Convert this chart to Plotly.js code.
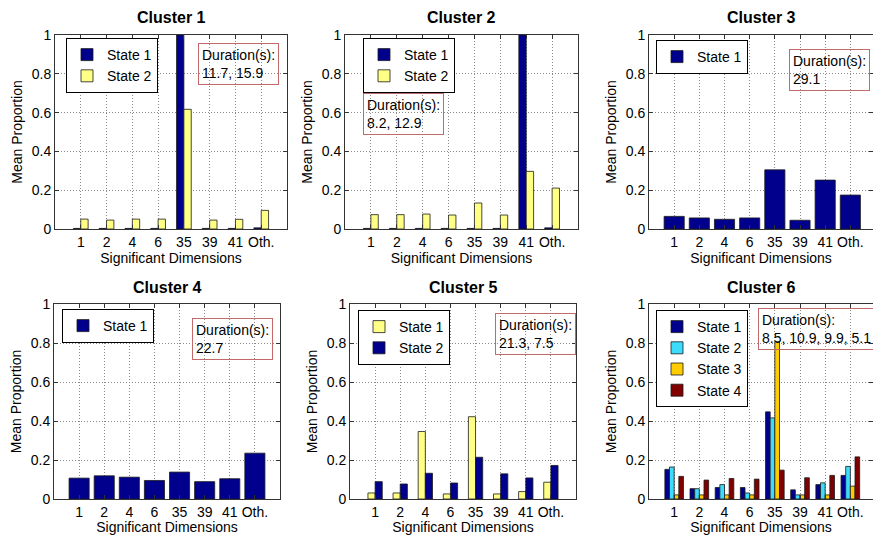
<!DOCTYPE html>
<html>
<head>
<meta charset="utf-8">
<script src="https://cdn.plot.ly/plotly-3.0.1.min.js"></script>
<style>html,body{margin:0;padding:0;background:#fff;}#chart{width:873px;height:535px;}</style>
</head>
<body>
<div id="chart"></div>
<script>
// ---- data ----
const dims = ['1', '2', '4', '6', '35', '39', '41', 'Oth.'];

const c1_state1 = [0.003, 0.003, 0.003, 0.003, 1.0, 0.003, 0.003, 0.006];
const c1_state2 = [0.051, 0.046, 0.051, 0.051, 0.617, 0.046, 0.050, 0.096];

const c2_state1 = [0.003, 0.003, 0.003, 0.003, 0.003, 0.003, 1.0, 0.006];
const c2_state2 = [0.074, 0.074, 0.077, 0.072, 0.134, 0.072, 0.297, 0.211];

const c3_state1 = [0.065, 0.057, 0.050, 0.057, 0.305, 0.045, 0.252, 0.175];

const c4_state1 = [0.107, 0.119, 0.112, 0.095, 0.138, 0.089, 0.104, 0.235];

const c5_state1 = [0.031, 0.031, 0.346, 0.026, 0.422, 0.026, 0.038, 0.086];
const c5_state2 = [0.089, 0.077, 0.132, 0.082, 0.214, 0.129, 0.108, 0.172];

const c6_state1 = [0.152, 0.053, 0.059, 0.059, 0.447, 0.047, 0.074, 0.121];
const c6_state2 = [0.164, 0.053, 0.074, 0.031, 0.416, 0.021, 0.083, 0.167];
const c6_state3 = [0.021, 0.021, 0.021, 0.021, 0.807, 0.021, 0.021, 0.066];
const c6_state4 = [0.116, 0.097, 0.105, 0.102, 0.148, 0.109, 0.121, 0.216];

const clusterTitles = ['Cluster 1', 'Cluster 2', 'Cluster 3', 'Cluster 4', 'Cluster 5', 'Cluster 6'];
const durations = ['11.7, 15.9', '8.2, 12.9', '29.1', '22.7', '21.3, 7.5', '8.5, 10.9, 9.9, 5.1'];
const yTickVals = [0, 0.2, 0.4, 0.6, 0.8, 1];
const yTickText = ['0', '0.2', '0.4', '0.6', '0.8', '1'];

// ---- styles ----
const NAVY = '#00008C';
const PALE = '#FFFF85';
const CYAN = '#3CDCFA';
const GOLD = '#FFCC00';
const MAROON = '#800000';
const FONT = '"Liberation Sans", Arial, sans-serif';

const panels = [
  {series: [['State 1', c1_state1, NAVY], ['State 2', c1_state2, PALE]]},
  {series: [['State 1', c2_state1, NAVY], ['State 2', c2_state2, PALE]]},
  {series: [['State 1', c3_state1, NAVY]]},
  {series: [['State 1', c4_state1, NAVY]]},
  {series: [['State 1', c5_state1, PALE], ['State 2', c5_state2, NAVY]]},
  {series: [['State 1', c6_state1, NAVY], ['State 2', c6_state2, CYAN], ['State 3', c6_state3, GOLD], ['State 4', c6_state4, MAROON]]}
];

const W = 873, H = 535;
// pixel layout [left, right, top, bottom], x range end
const boxes = [
  [55, 287, 35, 229, 8],
  [345, 578, 35, 229, 8],
  [649, 873, 35, 229, 7.9],
  [54, 280, 304, 499, 8],
  [350, 576, 304, 499, 8],
  [649, 873, 304, 499, 7.9]
];
const legendPos = [[66, 38], [363, 38], [656, 40], [62, 309], [358, 310], [656, 310]];
const durPos = [[198, 43], [363, 93], [789, 49], [192, 318], [495, 313], [758, 308]];

const traces = [];
const layout = {
  width: W, height: H,
  margin: {l: 0, r: 0, t: 0, b: 0},
  paper_bgcolor: '#fff', plot_bgcolor: '#fff',
  barmode: 'overlay',
  font: {family: FONT, size: 14, color: '#000'},
  showlegend: true,
  annotations: []
};

const GRID = {showgrid: true, gridcolor: '#8a8a8a', griddash: '1px,2px', gridwidth: 1};

panels.forEach((p, k) => {
  const idx = k === 0 ? '' : String(k + 1);
  const n = p.series.length;
  const gw = n === 1 ? 0.8 : (n === 2 ? 0.57 : 0.74);
  const bw = gw / n;
  const legName = 'legend' + idx;
  p.series.forEach((s, i) => {
    traces.push({
      type: 'bar',
      name: s[0],
      x: dims,
      y: s[1],
      xaxis: 'x' + idx,
      yaxis: 'y' + idx,
      width: bw,
      offset: -gw / 2 + i * bw,
      marker: {color: s[2], line: {color: '#1a1a1a', width: 0.8}},
      legend: legName,
      hoverinfo: 'y'
    });
  });
  const b = boxes[k];
  layout['xaxis' + idx] = Object.assign({
    domain: [b[0] / W, b[1] / W],
    anchor: 'y' + idx,
    type: 'category',
    range: [-1, b[4]],
    showline: true, linecolor: '#333', linewidth: 1, mirror: 'ticks',
    ticks: 'inside', ticklen: 4, tickcolor: '#333',
    tickfont: {size: 14, family: FONT, color: '#000'},
    title: {text: 'Significant Dimensions', font: {size: 14, family: FONT, color: '#000'}, standoff: 1},
    fixedrange: true
  }, GRID);
  layout['yaxis' + idx] = Object.assign({
    domain: [1 - b[3] / H, 1 - b[2] / H],
    anchor: 'x' + idx,
    range: [0, 1],
    tickvals: yTickVals, ticktext: yTickText,
    showline: true, linecolor: '#333', linewidth: 1, mirror: 'ticks',
    ticks: 'inside', ticklen: 4, tickcolor: '#333',
    zeroline: false,
    tickfont: {size: 14, family: FONT, color: '#000'},
    title: {text: 'Mean Proportion', font: {size: 14, family: FONT, color: '#000'}, standoff: 5},
    fixedrange: true
  }, GRID);
  const lp = legendPos[k];
  layout[legName] = {
    x: lp[0] / W, y: 1 - lp[1] / H, xanchor: 'left', yanchor: 'top',
    xref: 'paper', yref: 'paper',
    bgcolor: '#fff', bordercolor: '#000', borderwidth: 1,
    font: {size: 14, family: FONT, color: '#000'},
    traceorder: 'normal', tracegroupgap: 0, itemwidth: 30
  };
  // cluster title
  layout.annotations.push({
    text: '<b>' + clusterTitles[k] + '</b>',
    xref: 'paper', yref: 'paper',
    x: ((b[0] + Math.min(b[1], b[0] + 9 * (b[1] - b[0]) / (b[4] + 1))) / 2) / W,
    y: 1 - (b[2] - 17) / H,
    xanchor: 'center', yanchor: 'middle', showarrow: false,
    font: {size: 16, family: FONT, color: '#000'}
  });
  // duration box
  const dp = durPos[k];
  layout.annotations.push({
    text: 'Duration(s):<br>' + durations[k],
    xref: 'paper', yref: 'paper',
    x: dp[0] / W, y: 1 - dp[1] / H,
    xanchor: 'left', yanchor: 'top', align: 'left', showarrow: false,
    bordercolor: '#c06a6a', borderwidth: 1, borderpad: 3,
    font: {size: 14, family: FONT, color: '#000'}
  });
});

Plotly.newPlot('chart', traces, layout, {displayModeBar: false, staticPlot: true});
</script>
</body>
</html>
